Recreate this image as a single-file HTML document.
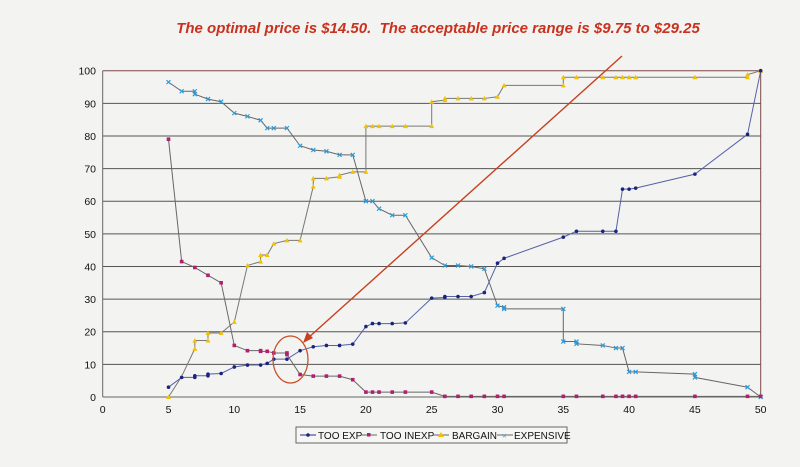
<!DOCTYPE html>
<html><head><meta charset="utf-8"><style>
body{margin:0;background:#f3f3f1;}
svg{display:block}
</style></head><body>
<svg id="s" width="800" height="467" viewBox="0 0 800 467" xmlns="http://www.w3.org/2000/svg" font-family="Liberation Sans, sans-serif">
<rect width="800" height="467" fill="#f3f3f1"/>
<text x="438" y="33" text-anchor="middle" font-size="15" font-weight="bold" font-style="italic" fill="#c8321e">The optimal price is $14.50.&#160; The acceptable price range is $9.75 to $29.25</text>
<g id="grid"></g>
<g id="series"></g>
<ellipse cx="290.5" cy="359.5" rx="17.5" ry="23.5" fill="none" stroke="#c8502a" stroke-width="1.3"/>
<line x1="622" y1="56" x2="308" y2="338" stroke="#c8401e" stroke-width="1.4"/>
<polygon points="303,343 307,332 313,338" fill="#c8401e"/>
<rect x="296" y="427" width="271" height="16" fill="#f6f6f4" stroke="#666" stroke-width="1"/>
<g font-size="10" fill="#111">
<line x1="300" y1="435" x2="316" y2="435" stroke="#223388"/><circle cx="308" cy="435" r="1.8" fill="#1a237e"/><text x="318" y="439">TOO EXP</text>
<line x1="361" y1="435" x2="377" y2="435" stroke="#666"/><rect x="367" y="433" width="3.5" height="3.5" fill="#b0206e"/><text x="380" y="439">TOO INEXP</text>
<line x1="433" y1="435" x2="449" y2="435" stroke="#666"/><polygon points="441,432 444,437 438,437" fill="#f2c200"/><text x="452" y="439">BARGAIN</text>
<line x1="497" y1="435" x2="513" y2="435" stroke="#666"/><text x="502" y="438.5" font-size="8" fill="#2a9ad8">×</text><text x="514" y="439">EXPENSIVE</text>
</g>
</svg>
<script>
var X=function(v){return 102.7+v*13.16}, Y=function(v){return 397-v*3.263};
var ns="http://www.w3.org/2000/svg";
function el(t,a,p){var e=document.createElementNS(ns,t);for(var k in a)e.setAttribute(k,a[k]);p.appendChild(e);return e;}
var g=document.getElementById('grid');
for(var i=1;i<=10;i++){el('line',{x1:102.7,x2:760.7,y1:Y(i*10),y2:Y(i*10),stroke:i==10?'#7a4a4a':'#555','stroke-width':1},g);}
el('line',{x1:102.7,x2:102.7,y1:Y(100),y2:Y(0),stroke:'#666'},g);
el('line',{x1:760.7,x2:760.7,y1:Y(100),y2:Y(0),stroke:'#7a4a4a'},g);
el('line',{x1:102.7,x2:760.7,y1:Y(0),y2:Y(0),stroke:'#666'},g);
for(var i=0;i<=10;i++){var t=el('text',{x:X(i*5),y:413,'text-anchor':'middle','font-size':10.5,fill:'#111'},g);t.textContent=i*5;}
for(var i=0;i<=10;i++){var t=el('text',{x:96,y:Y(i*10)+4,'text-anchor':'end','font-size':10.5,fill:'#111'},g);t.textContent=i*10;}
var TE=[[5,3],[6,6],[7,6],[7,6.5],[8,6.5],[8,7],[9,7.2],[10,9.2],[11,9.8],[12,9.8],[12.5,10.3],[13,11.6],[14,11.6],[15,14.2],[16,15.4],[17,15.8],[18,15.8],[19,16.2],[20,21.6],[20.5,22.5],[21,22.5],[22,22.5],[23,22.7],[25,30.3],[26,30.5],[26,30.8],[27,30.8],[28,30.8],[29,32],[30,41],[30.5,42.5],[35,49],[36,50.8],[38,50.8],[39,50.8],[39.5,63.7],[40,63.7],[40.5,64],[45,68.3],[49,80.5],[50,100]];
var TI=[[5,79],[6,41.5],[7,39.7],[8,37.3],[9,35],[10,15.8],[11,14.2],[12,14.2],[12,14],[12.5,14],[13,13.5],[14,13.5],[14,13],[15,6.9],[16,6.4],[17,6.4],[18,6.4],[19,5.3],[20,1.5],[20.5,1.5],[21,1.5],[22,1.5],[23,1.5],[25,1.5],[26,0.2],[27,0.2],[28,.2],[29,.2],[30,.2],[30.5,.2],[35,.2],[36,.2],[38,.2],[39,.2],[39.5,.2],[40,.2],[40.5,.2],[45,.2],[49,.2],[50,.2]];
var BA=[[5,0],[6,6.3],[7,14.8],[7,17.3],[8,17.3],[8,19.6],[9,19.6],[10,23],[11,40.3],[12,41.5],[12,43.5],[12.5,43.5],[13,47],[14,48],[15,48],[16,64.5],[16,67],[17,67],[18,67.5],[18,68],[19,69],[20,69],[20,83],[20.5,83],[21,83],[22,83],[23,83],[25,83],[25,90.5],[26,91],[26,91.5],[27,91.5],[28,91.5],[29,91.5],[30,92],[30.5,95.5],[35,95.5],[35,98],[36,98],[38,98],[39,98],[39.5,98],[40,98],[40.5,98],[45,98],[49,98],[49,98.8],[50,100]];
var EX=[[5,96.5],[6,93.7],[7,93.7],[7,92.8],[8,91.3],[9,90.5],[10,87],[11,86],[12,84.8],[12.5,82.4],[13,82.4],[14,82.4],[15,77],[16,75.7],[17,75.3],[18,74.2],[19,74.2],[20,60],[20.5,60],[21,57.7],[22,55.7],[23,55.7],[25,42.7],[26,40.3],[27,40.3],[28,40],[29,39.3],[30,28],[30.5,27.5],[30.5,27],[35,27],[35,17],[36,17],[36,16.3],[38,15.8],[39,15],[39.5,15],[40,7.7],[40.5,7.7],[45,7],[45,6],[49,3],[50,0]];
var s=document.getElementById('series');
function draw(d,lc,m){el('polyline',{points:d.map(function(p){return X(p[0])+','+Y(p[1])}).join(' '),fill:'none',stroke:lc,'stroke-width':1},s);
 d.forEach(function(p){var x=X(p[0]),y=Y(p[1]);
  if(m=='d')el('circle',{cx:x,cy:y,r:1.8,fill:'#1a237e'},s);
  else if(m=='s')el('rect',{x:x-1.8,y:y-1.8,width:3.6,height:3.6,fill:'#b0206e'},s);
  else if(m=='t')el('polygon',{points:(x)+','+(y-2.5)+' '+(x+2.5)+','+(y+2)+' '+(x-2.5)+','+(y+2),fill:'#f2c200'},s);
  else {el('path',{d:'M'+(x-2)+' '+(y-2)+'L'+(x+2)+' '+(y+2)+'M'+(x+2)+' '+(y-2)+'L'+(x-2)+' '+(y+2),stroke:'#2a9ad8','stroke-width':1.2},s);}
 });}
draw(EX,'#666','x');draw(BA,'#777','t');draw(TI,'#666','s');draw(TE,'#5561a8','d');
</script>
</body></html>
